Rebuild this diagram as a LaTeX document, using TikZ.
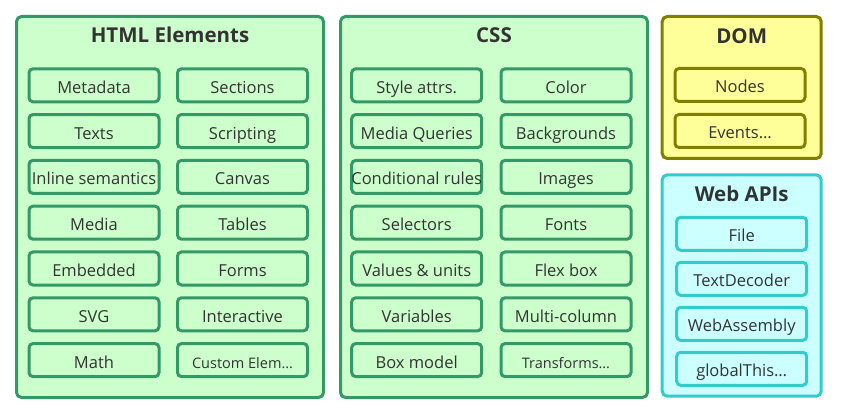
\documentclass[tikz,border=0pt]{standalone}
\usepackage{fontspec}
\setmainfont{Open Sans}
\usepackage{xcolor}
\usepackage{tikz}
\definecolor{htmlfill}{HTML}{CCFFCC}
\definecolor{htmlline}{HTML}{339966}
\definecolor{domfill}{HTML}{FFFF99}
\definecolor{domline}{HTML}{808000}
\definecolor{apifill}{HTML}{CCFFFF}
\definecolor{apiline}{HTML}{33CCCC}
\definecolor{txtgray}{HTML}{333333}
\newcommand\itemsmall{\fontsize{14.5}{16}\selectfont}
\tikzset{
  group/.style={line width=3pt, rounded corners=5pt, inner sep=0pt},
  item/.style={draw, line width=3pt, rounded corners=4pt, inner sep=0pt,
    minimum width=130pt, minimum height=33pt, text height=16pt, text depth=0pt,
    font=\fontsize{16.5}{18}\selectfont, text=txtgray},
  heading/.style={anchor=base, font=\fontsize{20.5}{24}\selectfont\bfseries, text=txtgray}
}

\begin{document}
\begin{tikzpicture}[x=1pt, y=-1pt]
\useasboundingbox (0,0) rectangle (866,411);
\node[group, fill=htmlfill, draw=htmlline, minimum width=307pt, minimum height=381pt] (html) at (170,207) {};
\node[group, fill=htmlfill, draw=htmlline, minimum width=307pt, minimum height=381pt] (css) at (494,207) {};
\node[group, fill=domfill, draw=domline, minimum width=159pt, minimum height=142pt] (dom) at (741.7,87.5) {};
\node[group, fill=apifill, draw=apiline, minimum width=159pt, minimum height=221.4pt] (webapi) at (741.7,285.5) {};
\node[heading] (html-title) at (170,42.7) {HTML Elements};
\node[heading] (css-title) at (494,42.7) {CSS};
\node[heading] (dom-title) at (741.7,43.3) {DOM};
\node[heading] (webapi-title) at (741.7,201.7) {Web APIs};
\foreach \nm/\cx/\r/\t in {
    metadata/94/0/Metadata, sections/242.5/0/Sections,
    texts/94/1/Texts, scripting/242.5/1/Scripting,
    inline/94/2/Inline semantics, canvas/242.5/2/Canvas,
    media/94/3/Media, tables/242.5/3/Tables,
    embedded/94/4/Embedded, forms/242.5/4/Forms,
    svg/94/5/SVG, interactive/242.5/5/Interactive,
    math/94/6/Math, custom/242.5/6/{\itemsmall Custom Elem…}}
  \node[item, draw=htmlline] (\nm) at (\cx,85.3+45.8*\r) {\makebox[0pt]{\t}};
\foreach \nm/\cx/\r/\t in {
    style/416.7/0/Style attrs., color/566/0/Color,
    mq/416.7/1/Media Queries, backgrounds/566/1/Backgrounds,
    conditional/416.7/2/Conditional rules, images/566/2/Images,
    selectors/416.7/3/Selectors, fonts/566/3/Fonts,
    values/416.7/4/Values \& units, flexbox/566/4/Flex box,
    variables/416.7/5/Variables, multicol/566/5/Multi-column,
    boxmodel/416.7/6/Box model, transforms/566/6/{\itemsmall Transforms…}}
  \node[item, draw=htmlline] (\nm) at (\cx,85.3+45.8*\r) {\makebox[0pt]{\t}};
\node[item, draw=domline] (nodes) at (740,85) {Nodes};
\node[item, draw=domline] (events) at (740,131) {Events…};
\foreach \nm/\r/\t in {file/0/File, textdecoder/1/TextDecoder, wasm/2/WebAssembly, globalthis/3/globalThis…}
  \node[item, draw=apiline] (\nm) at (741.7,233.8+45*\r) {\makebox[0pt]{\t}};
\end{tikzpicture}
\end{document}
